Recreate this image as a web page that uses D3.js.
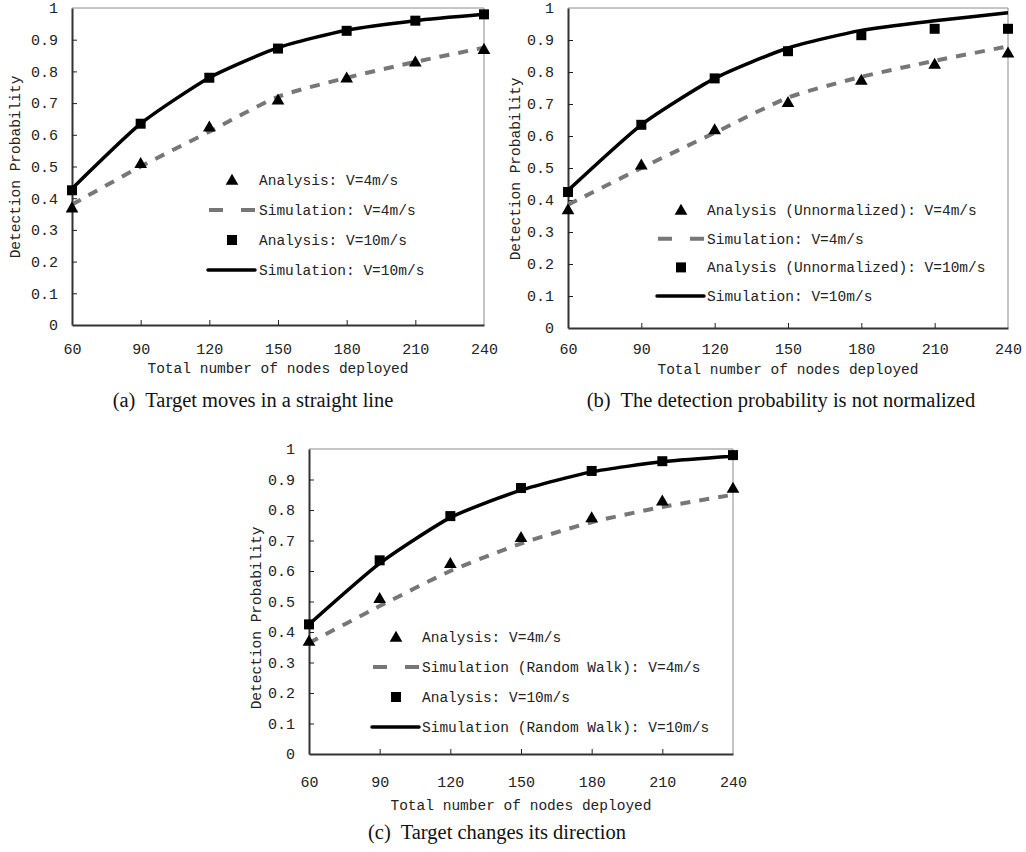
<!DOCTYPE html>
<html>
<head>
<meta charset="utf-8">
<script src="https://cdn.jsdelivr.net/npm/d3@7"></script>
<style>
  body { margin: 0; background: #fff; }
  svg { display: block; }
</style>
</head>
<body>
<svg id="chart" width="1026" height="852"></svg>
<script>
// x values shared by all three panels
var nodes = [60, 90, 120, 150, 180, 210, 240];
var yTicks = [0, 0.1, 0.2, 0.3, 0.4, 0.5, 0.6, 0.7, 0.8, 0.9, 1];

// (a) straight line
var aAnalysis4 = [0.37, 0.51, 0.625, 0.71, 0.78, 0.83, 0.87];
var aSim4 = [0.38, 0.50, 0.61, 0.72, 0.78, 0.83, 0.875];
var aAnalysis10 = [0.425, 0.635, 0.78, 0.872, 0.928, 0.96, 0.98];
var aSim10 = [0.43, 0.635, 0.78, 0.875, 0.93, 0.96, 0.98];

// (b) not normalized
var bAnalysis4 = [0.37, 0.51, 0.62, 0.705, 0.775, 0.825, 0.86];
var bSim4 = [0.385, 0.50, 0.61, 0.72, 0.785, 0.835, 0.88];
var bAnalysis10 = [0.425, 0.635, 0.78, 0.865, 0.915, 0.935, 0.935];
var bSim10 = [0.43, 0.635, 0.78, 0.875, 0.93, 0.96, 0.985];

// (c) random walk
var cAnalysis4 = [0.37, 0.51, 0.625, 0.71, 0.775, 0.83, 0.872];
var cSim4 = [0.364, 0.485, 0.60, 0.69, 0.76, 0.81, 0.85];
var cAnalysis10 = [0.425, 0.635, 0.78, 0.872, 0.928, 0.96, 0.98];
var cSim10 = [0.425, 0.625, 0.775, 0.865, 0.925, 0.958, 0.976];

var legendA = ["Analysis: V=4m/s", "Simulation: V=4m/s", "Analysis: V=10m/s", "Simulation: V=10m/s"];
var legendB = ["Analysis (Unnormalized): V=4m/s", "Simulation: V=4m/s", "Analysis (Unnormalized): V=10m/s", "Simulation: V=10m/s"];
var legendC = ["Analysis: V=4m/s", "Simulation (Random Walk): V=4m/s", "Analysis: V=10m/s", "Simulation (Random Walk): V=10m/s"];

var MONO = "'Liberation Mono', 'DejaVu Sans Mono', 'Courier New', monospace";
var SERIF = "'Liberation Serif', 'Times New Roman', serif";

var svg = d3.select("#chart");

function mono(sel, size) {
    return sel.style("font-family", MONO).style("font-size", size + "px").attr("fill", "#222");
}

function drawPanel(p) {
    var x = d3.scaleLinear().domain([60, 240]).range([p.left, p.right]);
    var y = d3.scaleLinear().domain([0, 1]).range([p.bottom, p.top]);
    var g = svg.append("g");

    // frame: thin gray top / right
    g.append("path")
        .attr("d", "M" + p.left + "," + p.top + "H" + p.right + "V" + p.bottom)
        .attr("fill", "none").attr("stroke", "#8a8a8a").attr("stroke-width", 1);

    // axes with inward ticks
    var xAxis = g.append("g").attr("transform", "translate(0," + p.bottom + ")")
        .call(d3.axisBottom(x).tickValues(nodes).tickSizeInner(-5).tickSizeOuter(0).tickPadding(14));
    var yAxis = g.append("g").attr("transform", "translate(" + p.left + ",0)")
        .call(d3.axisLeft(y).tickValues(yTicks).tickSizeInner(-5).tickSizeOuter(0).tickPadding(14)
            .tickFormat(d => d === 0 || d === 1 ? d3.format("d")(d) : d3.format(".1f")(d)));
    [xAxis, yAxis].forEach(a => {
        a.select(".domain").attr("stroke", "#333").attr("stroke-width", 2);
        a.selectAll(".tick line").attr("stroke", "#222");
        mono(a.selectAll("text"), 15);
    });
    xAxis.selectAll(".tick text").attr("dy", "0.35em").attr("y", p.tickY);
    xAxis.selectAll(".tick").filter(d => d === 60 || d === 240).select("line").remove();
    yAxis.selectAll(".tick").filter(d => d === 0 || d === 1).select("line").remove();

    // axis titles
    mono(g.append("text"), 14.5)
        .attr("x", (p.left + p.right) / 2).attr("y", p.xTitleY)
        .attr("text-anchor", "middle").text("Total number of nodes deployed");
    mono(g.append("text"), 14.5)
        .attr("transform", "translate(" + p.yTitleX + "," + p.yTitleY + ") rotate(-90)")
        .attr("text-anchor", "middle").text("Detection Probability");

    // caption
    g.append("text").style("font-family", SERIF).style("font-size", "20.5px").attr("fill", "#111")
        .attr("x", p.capX).attr("y", p.capY).attr("text-anchor", "middle")
        .style("white-space", "pre").text(p.caption);

    var line = d3.line().x((d, i) => x(nodes[i])).y(d => y(d)).curve(d3.curveCardinal.tension(0.4));

    g.append("path").datum(p.sim4).attr("d", line)
        .attr("fill", "none").attr("stroke", "#777").attr("stroke-width", 4)
        .attr("stroke-dasharray", "10,9");
    g.append("path").datum(p.sim10).attr("d", line)
        .attr("fill", "none").attr("stroke", "#000").attr("stroke-width", 3.5);

    var tri = d3.symbol().type(d3.symbolTriangle).size(70);
    var sq = d3.symbol().type(d3.symbolSquare).size(100);

    g.selectAll(".tri").data(p.an4).enter().append("path")
        .attr("d", tri)
        .attr("transform", (d, i) => "translate(" + x(nodes[i]) + "," + (y(d) + 1) + ")")
        .attr("fill", "#000");
    g.selectAll(".sq").data(p.an10).enter().append("path")
        .attr("d", sq)
        .attr("transform", (d, i) => "translate(" + x(nodes[i]) + "," + y(d) + ")")
        .attr("fill", "#000");

    // legend
    var lg = g.append("g");
    p.legend.forEach((label, i) => {
        var ly = p.legY + i * p.legStep;
        if (i === 0) {
            lg.append("path").attr("d", tri).attr("fill", "#000")
                .attr("transform", "translate(" + p.legSym + "," + (ly + 1) + ")");
        } else if (i === 1) {
            lg.append("line").attr("x1", p.legSym - 23).attr("x2", p.legSym + 23)
                .attr("y1", ly).attr("y2", ly).attr("stroke", "#777").attr("stroke-width", 4)
                .attr("stroke-dasharray", "14,18");
        } else if (i === 2) {
            lg.append("path").attr("d", sq).attr("fill", "#000")
                .attr("transform", "translate(" + p.legSym + "," + ly + ")");
        } else {
            lg.append("line").attr("x1", p.legSym - 24).attr("x2", p.legSym + 23)
                .attr("y1", ly).attr("y2", ly).attr("stroke", "#000").attr("stroke-width", 3.5)
                .attr("stroke-linecap", "round");
        }
        mono(lg.append("text"), 14.5)
            .attr("x", p.legText).attr("y", ly).attr("dy", "0.35em")
            .style("white-space", "pre").text(label);
    });
}

drawPanel({
    left: 72, right: 484, top: 8, bottom: 325, tickY: 24,
    xTitleY: 373, yTitleX: 20, yTitleY: 167,
    caption: "(a)  Target moves in a straight line", capX: 253, capY: 407,
    an4: aAnalysis4, sim4: aSim4, an10: aAnalysis10, sim10: aSim10,
    legend: legendA, legY: 180, legStep: 30, legSym: 232, legText: 259
});
drawPanel({
    left: 568, right: 1008, top: 8, bottom: 328, tickY: 21,
    xTitleY: 374, yTitleX: 520, yTitleY: 169,
    caption: "(b)  The detection probability is not normalized", capX: 781, capY: 407,
    an4: bAnalysis4, sim4: bSim4, an10: bAnalysis10, sim10: bSim10,
    legend: legendB, legY: 210, legStep: 28.7, legSym: 681, legText: 707
});
drawPanel({
    left: 309, right: 733, top: 449, bottom: 754, tickY: 28,
    xTitleY: 810, yTitleX: 261, yTitleY: 618,
    caption: "(c)  Target changes its direction", capX: 497, capY: 839,
    an4: cAnalysis4, sim4: cSim4, an10: cAnalysis10, sim10: cSim10,
    legend: legendC, legY: 637, legStep: 30, legSym: 396, legText: 422
});
</script>
</body>
</html>
